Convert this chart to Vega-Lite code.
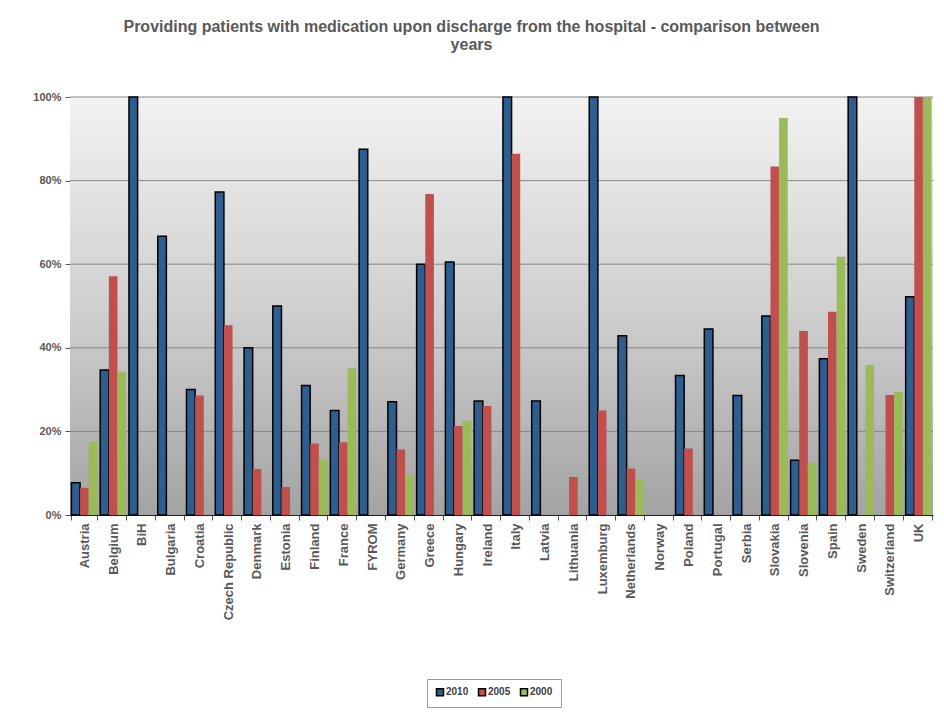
{
  "$schema": "https://vega.github.io/schema/vega-lite/v6.json",
  "width": 863,
  "height": 418,
  "autosize": "none",
  "padding": {"left": 70, "top": 97, "right": 11, "bottom": 202},
  "background": "white",
  "title": {
    "text": ["Providing patients with medication upon discharge from the hospital - comparison between", "years"],
    "font": "Liberation Sans",
    "fontSize": 16,
    "fontWeight": "bold",
    "color": "#595959",
    "anchor": "middle",
    "dx": -30,
    "offset": 38,
    "lineHeight": 18
  },
  "config": {
    "view": {"stroke": null},
    "axis": {
      "labelFont": "Liberation Sans",
      "labelFontWeight": "bold",
      "labelColor": "#595959",
      "labelFontSize": 11,
      "domainColor": "#222222",
      "tickColor": "#555555"
    },
    "legend": {"labelFont": "Liberation Sans"}
  },
  "layer": [
    {
      "data": {"values": [{"lo": 0, "hi": 100}]},
      "mark": {
        "type": "rect",
        "color": {
          "gradient": "linear",
          "x1": 0, "y1": 0, "x2": 0, "y2": 1,
          "stops": [
            {"offset": 0, "color": "#f2f2f2"},
            {"offset": 0.5, "color": "#d0d0d0"},
            {"offset": 1, "color": "#a3a3a3"}
          ]
        }
      },
      "encoding": {
        "y": {"field": "lo", "type": "quantitative", "scale": {"domain": [0, 100]}},
        "y2": {"field": "hi"}
      }
    },
    {
      "data": {"values": [{"g": 20}, {"g": 40}, {"g": 60}, {"g": 80}, {"g": 100}]},
      "mark": {"type": "rule", "color": "#878787", "strokeWidth": 1},
      "encoding": {
        "y": {"field": "g", "type": "quantitative"}
      }
    },
    {
      "data": {
        "values": [
          {"country": "Austria", "year": "2010", "value": 7.7},
          {"country": "Austria", "year": "2005", "value": 6.5},
          {"country": "Austria", "year": "2000", "value": 17.5},
          {"country": "Belgium", "year": "2010", "value": 34.7},
          {"country": "Belgium", "year": "2005", "value": 57.1},
          {"country": "Belgium", "year": "2000", "value": 34.3},
          {"country": "BiH", "year": "2010", "value": 100},
          {"country": "Bulgaria", "year": "2010", "value": 66.7},
          {"country": "Croatia", "year": "2010", "value": 30.0},
          {"country": "Croatia", "year": "2005", "value": 28.6},
          {"country": "Czech Republic", "year": "2010", "value": 77.3},
          {"country": "Czech Republic", "year": "2005", "value": 45.4},
          {"country": "Denmark", "year": "2010", "value": 40.0},
          {"country": "Denmark", "year": "2005", "value": 11.0},
          {"country": "Estonia", "year": "2010", "value": 50.0},
          {"country": "Estonia", "year": "2005", "value": 6.7},
          {"country": "Finland", "year": "2010", "value": 31.0},
          {"country": "Finland", "year": "2005", "value": 17.1},
          {"country": "Finland", "year": "2000", "value": 13.3},
          {"country": "France", "year": "2010", "value": 25.0},
          {"country": "France", "year": "2005", "value": 17.4},
          {"country": "France", "year": "2000", "value": 35.1},
          {"country": "FYROM", "year": "2010", "value": 87.5},
          {"country": "Germany", "year": "2010", "value": 27.1},
          {"country": "Germany", "year": "2005", "value": 15.7},
          {"country": "Germany", "year": "2000", "value": 9.4},
          {"country": "Greece", "year": "2010", "value": 60.0},
          {"country": "Greece", "year": "2005", "value": 76.8},
          {"country": "Hungary", "year": "2010", "value": 60.5},
          {"country": "Hungary", "year": "2005", "value": 21.3},
          {"country": "Hungary", "year": "2000", "value": 22.6},
          {"country": "Ireland", "year": "2010", "value": 27.3},
          {"country": "Ireland", "year": "2005", "value": 26.1},
          {"country": "Italy", "year": "2010", "value": 100},
          {"country": "Italy", "year": "2005", "value": 86.4},
          {"country": "Latvia", "year": "2010", "value": 27.3},
          {"country": "Lithuania", "year": "2005", "value": 9.1},
          {"country": "Luxemburg", "year": "2010", "value": 100},
          {"country": "Luxemburg", "year": "2005", "value": 25.0},
          {"country": "Netherlands", "year": "2010", "value": 42.9},
          {"country": "Netherlands", "year": "2005", "value": 11.1},
          {"country": "Netherlands", "year": "2000", "value": 8.4},
          {"country": "Poland", "year": "2010", "value": 33.4},
          {"country": "Poland", "year": "2005", "value": 15.9},
          {"country": "Portugal", "year": "2010", "value": 44.5},
          {"country": "Serbia", "year": "2010", "value": 28.6},
          {"country": "Slovakia", "year": "2010", "value": 47.6},
          {"country": "Slovakia", "year": "2005", "value": 83.4},
          {"country": "Slovakia", "year": "2000", "value": 95.0},
          {"country": "Slovenia", "year": "2010", "value": 13.1},
          {"country": "Slovenia", "year": "2005", "value": 44.0},
          {"country": "Slovenia", "year": "2000", "value": 12.5},
          {"country": "Spain", "year": "2010", "value": 37.4},
          {"country": "Spain", "year": "2005", "value": 48.6},
          {"country": "Spain", "year": "2000", "value": 61.8},
          {"country": "Sweden", "year": "2010", "value": 100},
          {"country": "Sweden", "year": "2000", "value": 35.9},
          {"country": "Switzerland", "year": "2005", "value": 28.7},
          {"country": "Switzerland", "year": "2000", "value": 29.4},
          {"country": "UK", "year": "2010", "value": 52.2},
          {"country": "UK", "year": "2005", "value": 100},
          {"country": "UK", "year": "2000", "value": 100}
        ]
      },
      "mark": {"type": "bar", "stroke": "#000000"},
      "encoding": {
        "x": {
          "field": "country",
          "type": "nominal",
          "scale": {
            "domain": ["Austria", "Belgium", "BiH", "Bulgaria", "Croatia", "Czech Republic", "Denmark", "Estonia", "Finland", "France", "FYROM", "Germany", "Greece", "Hungary", "Ireland", "Italy", "Latvia", "Lithuania", "Luxemburg", "Netherlands", "Norway", "Poland", "Portugal", "Serbia", "Slovakia", "Slovenia", "Spain", "Sweden", "Switzerland", "UK"],
            "paddingInner": 0.1,
            "paddingOuter": 0.05
          },
          "axis": {
            "title": null,
            "labelAngle": -90,
            "labelFontSize": 13,
            "tickBand": "extent",
            "tickSize": 5,
            "labelPadding": 3
          }
        },
        "xOffset": {
          "field": "year",
          "type": "nominal",
          "scale": {"domain": ["2010", "2005", "2000"], "paddingInner": 0, "paddingOuter": 0}
        },
        "y": {
          "field": "value",
          "type": "quantitative",
          "scale": {"domain": [0, 100]},
          "axis": {
            "title": null,
            "grid": false,
            "values": [0, 20, 40, 60, 80, 100],
            "labelExpr": "datum.value + '%'",
            "tickSize": 5,
            "labelPadding": 4
          }
        },
        "color": {
          "field": "year",
          "type": "nominal",
          "scale": {"domain": ["2010", "2005", "2000"], "range": ["#2d5e8f", "#c0504d", "#9bbb59"]},
          "legend": {
            "title": null,
            "orient": "none",
            "legendX": 357,
            "legendY": 582,
            "direction": "horizontal",
            "symbolType": "square",
            "symbolSize": 49,
            "symbolOpacity": 1,
            "labelFontSize": 10,
            "labelFontWeight": "bold",
            "labelColor": "#404040",
            "labelOffset": 1,
            "columnPadding": 6,
            "padding": 8,
            "strokeColor": "#9a9a9a",
            "fillColor": "white",
            "encode": {
              "symbols": {
                "update": {
                  "stroke": {"signal": "datum.value === '2010' ? '#000000' : null"},
                  "strokeWidth": {"value": 1.5}
                }
              }
            }
          }
        },
        "strokeWidth": {
          "condition": {"test": "datum.year === '2010'", "value": 1.5},
          "value": 0
        }
      }
    }
  ]
}
